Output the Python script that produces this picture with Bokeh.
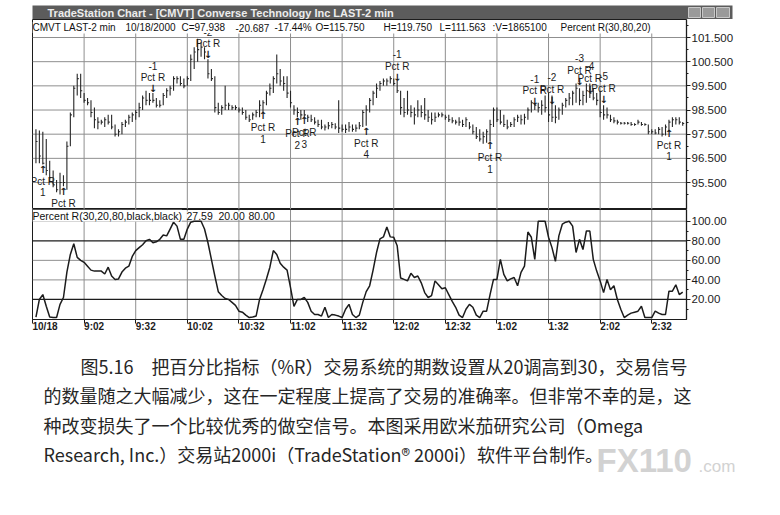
from bokeh.plotting import figure
from bokeh.models import Range1d, FixedTicker, Span, Label, NumeralTickFormatter, ColumnDataSource
from bokeh.layouts import column
from bokeh.embed import file_html
from bokeh.resources import INLINE
from bokeh.core.properties import value

# ---------------- data ----------------
high = [97.7, 97.65, 97.6, 97.3, 96.4, 96.0, 95.6, 95.9, 95.8, 97.2,
        98.4, 99.5, 100.0, 100.0, 99.2, 99.0, 98.9, 98.6, 98.2, 98.1,
        98.2, 98.3, 98.3, 97.9, 97.7, 98.0, 98.1, 98.3, 98.4, 98.5,
        98.8, 99.1, 99.3, 99.2, 99.2, 99.0, 98.9, 99.2, 99.4, 99.5,
        99.9, 99.9, 99.9, 99.8, 99.9, 100.8, 101.1, 101.45, 101.3, 101.1,
        100.6, 100.2, 99.9, 98.8, 98.7, 99.5, 98.8, 98.7, 98.7, 98.6,
        98.6, 98.5, 98.3, 98.4, 98.5, 98.9, 98.9, 99.3, 99.6, 99.9,
        100.8, 100.2, 99.9, 99.9, 99.3, 98.7, 98.6, 98.5, 98.5, 98.3,
        98.3, 98.2, 98.1, 98.1, 97.9, 98.0, 98.0, 97.95, 98.9, 97.9,
        97.9, 98.0, 97.9, 97.9, 98.0, 98.5, 98.7, 99.0, 99.3, 99.6,
        99.7, 99.8, 99.8, 99.9, 99.8, 99.7, 99.3, 99.0, 99.3, 98.7,
        98.6, 98.9, 98.7, 99.0, 98.5, 98.4, 98.4, 98.4, 98.4, 98.3,
        98.3, 98.2, 98.1, 98.2, 98.1, 98.2, 98.0, 97.9, 97.8, 97.7,
        97.6, 97.7, 98.1, 98.6, 98.6, 98.5, 98.3, 98.1, 98.0, 98.2,
        98.3, 98.3, 98.35, 98.6, 98.9, 98.8, 98.8, 98.9, 99.1, 99.2,
        99.1, 98.7, 98.6, 98.8, 99.0, 99.2, 99.3, 99.6, 99.4, 99.3,
        99.6, 99.6, 99.4, 99.2, 99.3, 98.7, 98.6, 98.3, 98.2, 98.1,
        98.0, 98.0, 98.0, 98.0, 97.95, 98.1, 98.0, 97.95, 97.9, 97.7,
        97.7, 97.8, 97.8, 97.9, 98.1, 98.2, 98.2, 98.2, 98.0]
low = [96.3, 96.3, 96.25, 95.8, 95.5, 95.3, 95.1, 95.0, 95.35, 95.2,
       97.0, 98.2, 99.1, 99.0, 98.8, 98.7, 98.2, 97.75, 97.7, 97.9,
       97.8, 97.9, 97.7, 97.4, 97.4, 97.5, 97.8, 97.9, 98.0, 98.1,
       98.2, 98.5, 98.7, 98.7, 98.8, 98.6, 98.6, 98.7, 99.0, 99.1,
       99.3, 99.6, 99.5, 99.4, 99.5, 99.7, 100.2, 100.5, 100.7, 100.6,
       99.8, 99.7, 98.4, 98.3, 98.3, 98.5, 98.5, 98.5, 98.5, 98.4,
       98.3, 98.1, 98.0, 98.1, 98.2, 98.2, 98.4, 98.7, 99.1, 99.2,
       99.6, 99.5, 99.3, 99.0, 98.6, 98.3, 98.2, 98.1, 98.15, 98.0,
       98.0, 97.9, 97.8, 97.7, 97.65, 97.7, 97.75, 97.7, 97.55, 97.6,
       97.55, 97.6, 97.6, 97.6, 97.7, 97.8, 97.85, 98.4, 98.7, 99.0,
       99.3, 99.5, 99.5, 99.6, 99.5, 99.2, 98.3, 98.2, 98.3, 98.2,
       97.9, 98.2, 98.2, 98.1, 98.0, 97.9, 98.0, 98.2, 98.2, 98.1,
       98.0, 97.95, 97.9, 97.85, 97.8, 97.8, 97.7, 97.5, 97.3, 97.2,
       97.1, 97.15, 97.2, 97.8, 98.0, 97.9, 97.8, 97.7, 97.8, 97.8,
       98.0, 97.9, 97.9, 98.1, 98.4, 98.5, 98.4, 98.3, 98.4, 98.0,
       98.0, 97.95, 98.1, 98.3, 98.6, 98.7, 98.7, 98.8, 98.7, 98.7,
       98.8, 99.0, 98.9, 98.7, 98.2, 98.1, 98.15, 98.0, 97.95, 97.9,
       97.9, 97.9, 97.9, 97.85, 97.85, 97.9, 97.85, 97.85, 97.5, 97.5,
       97.5, 97.5, 97.4, 97.45, 97.6, 97.8, 97.9, 97.9, 97.85]
close = [97.2, 96.6, 96.3, 96.0, 95.7, 95.4, 95.2, 95.5, 95.5, 97.0,
         98.3, 99.4, 99.8, 99.3, 98.9, 98.8, 98.4, 98.1, 98.0, 98.0,
         98.1, 98.0, 97.8, 97.5, 97.6, 97.9, 98.0, 98.2, 98.3, 98.4,
         98.6, 99.0, 98.9, 98.9, 98.9, 98.7, 98.7, 99.1, 99.3, 99.4,
         99.8, 99.8, 99.6, 99.5, 99.8, 100.6, 100.9, 101.0, 101.1, 100.9,
         100.0, 99.8, 98.6, 98.4, 98.6, 98.7, 98.7, 98.6, 98.6, 98.5,
         98.4, 98.2, 98.1, 98.3, 98.4, 98.7, 98.8, 99.2, 99.4, 99.8,
         100.0, 99.7, 99.6, 99.2, 98.8, 98.5, 98.4, 98.3, 98.3, 98.2,
         98.1, 98.0, 97.9, 97.8, 97.8, 97.85, 97.9, 97.8, 97.75, 97.7,
         97.7, 97.8, 97.7, 97.75, 97.85, 98.4, 98.5, 98.9, 99.2, 99.4,
         99.6, 99.7, 99.7, 99.8, 99.6, 99.3, 98.6, 98.4, 98.5, 98.4,
         98.3, 98.5, 98.4, 98.3, 98.2, 98.1, 98.2, 98.3, 98.3, 98.2,
         98.1, 98.05, 98.0, 98.0, 97.9, 98.1, 97.8, 97.6, 97.4, 97.3,
         97.4, 97.6, 97.9, 98.5, 98.1, 98.0, 97.9, 97.8, 97.9, 98.1,
         98.2, 98.1, 98.2, 98.5, 98.8, 98.7, 98.6, 98.7, 98.6, 98.3,
         98.2, 98.2, 98.5, 98.7, 98.9, 99.0, 99.2, 99.4, 98.9, 99.1,
         99.3, 99.2, 99.0, 98.9, 98.4, 98.3, 98.3, 98.1, 98.05, 98.0,
         97.95, 97.95, 97.95, 97.9, 97.9, 98.0, 97.9, 97.9, 97.6, 97.6,
         97.55, 97.7, 97.5, 97.8, 98.0, 98.1, 98.1, 98.0, 97.94]
pct_r = [2, 20, 25, 13, 2, 1.5, 1.5, 15, 22, 48,
         66, 77, 63, 60, 58, 54, 50, 49, 49, 49,
         46, 53, 44, 40.5, 41, 48, 52, 54, 64, 70,
         73, 76, 80, 81.5, 78, 79, 81.5, 86, 85, 92,
         99, 95, 81.5, 81.5, 92, 99, 100, 100, 100, 92,
         78, 61, 44, 28, 24, 21, 20, 17, 14, 8,
         7, 4, 1.5, 2, 3, 20, 30, 41, 53, 70,
         66, 57, 53, 50, 32, 13, 20, 20, 22, 17,
         8, 4.6, 4.6, 3, 12, 1.5, 4.6, 4, 3, 1.5,
         10, 15, 4.6, 1.5, 4, 17, 28, 34, 50, 68,
         82, 84, 94, 84, 83.6, 75, 42, 40.5, 39, 46.7,
         42.5, 44, 37, 27, 22, 24, 39, 35, 31, 32,
         25, 18, 12, 4, 1.5, 10, 15, 12, 4, 1.5,
         8, 8, 25, 40.5, 40.5, 61, 45.6, 39, 41, 42.5,
         34, 47.7, 54, 89, 83.6, 61, 100, 100, 100, 83.6,
         73, 59, 85, 97, 99, 100, 95, 68, 81.5, 71,
         90, 90, 61, 49, 39, 27, 40.5, 30, 34, 20,
         10, 1.5, 4, 6, 7, 8, 13, 1.5, 1.5, 1.5,
         8, 6, 4.6, 4.6, 28.5, 28.5, 35, 25, 27.59]

time_ticks = [0, 15, 30, 45, 60, 75, 90, 105, 120, 135, 150, 165, 180]
time_labels = ["10/18", "9:02", "9:32", "10:02", "10:32", "11:02", "11:32",
               "12:02", "12:32", "1:02", "1:32", "2:02", "2:32"]
price_ticks = [95.5, 96.5, 97.5, 98.5, 99.5, 100.5, 101.5]
price_minor = [95, 96, 97, 98, 99, 100, 101, 102]
pr_ticks = [20, 40, 60, 80, 100]
pr_minor = [10, 30, 50, 70, 90]
pr_levels = [80, 20]

long_bar = [3, 9, 67, 77, 79, 97, 133, 185]
long_at = [96.05, 95.13, 98.27, 98.02, 98.05, 97.62, 97.03, 97.53]
long_num = ["1", "", "1", "2", "3", "4", "1", "1"]
short_bar = [35, 51, 106, 146, 151, 159, 162, 166]
short_at = [99.39, 100.78, 99.85, 98.85, 98.9, 99.68, 99.35, 98.95]
short_num = ["-1", "-2", "-1", "-1", "-2", "-3", "-4", "-5"]

window_title = "TradeStation Chart - [CMVT] Converse Technology Inc LAST-2 min"
info_parts = ["CMVT LAST-2 min", "10/18/2000", "C=97.938", "-20.687", "-17.44%",
              "O=115.750", "H=119.750", "L=111.563", ":V=1865100", "Percent R(30,80,20)"]
pr_parts = ["Percent R(30,20,80,black,black)", "27.59", "20.00", "80.00"]

caption_lines = [
    "图5.16　把百分比指标（%R）交易系统的期数设置从20调高到30，交易信号",
    "的数量随之大幅减少，这在一定程度上提高了交易的准确率。但非常不幸的是，这",
    "种改变损失了一个比较优秀的做空信号。本图采用欧米茄研究公司（Omega",
    "Research, Inc.）交易站2000i（TradeStation® 2000i）软件平台制作。",
]

# ---------------- layout / style constants ----------------
bars = list(range(1, len(close) + 1))
W = 772
LEFT = 32
X0, X1 = 0, 190.1
P0, P1 = 94.384, 102.245
R0, R1 = -0.5, 112.0
FW, PH, RH = 654, 190, 110
FONT = "Liberation Sans"
INK = "#1c1c1c"
GRID = "#8f8f8f"
ppu = PH / (P1 - P0)          # pixels per price unit
rpu = RH / (R1 - R0)          # pixels per %R unit
bpx = FW / (X1 - X0)          # pixels per bar
info_px = [32, 125, 181, 235, 274, 315, 383, 439, 492, 560]   # label starts (page px)
pr_px = [32, 186, 218, 248]
CAP_SHIFT = -34               # compensates the caption canvas offset seen in rendering


def base(fh, **kw):
    return figure(frame_width=FW, frame_height=fh, toolbar_location=None,
                  output_backend="svg", min_border_left=LEFT, min_border_right=W - LEFT - FW,
                  min_border_top=0, min_border_bottom=0,
                  background_fill_color="white", border_fill_color="white",
                  outline_line_color=INK, **kw)


def style_right_axis(ax, ticks, minor, fmt):
    ax.ticker = FixedTicker(ticks=ticks, minor_ticks=minor)
    ax.formatter = NumeralTickFormatter(format=fmt)
    ax.axis_line_color = INK
    ax.axis_line_width = 1.3
    ax.major_tick_in = 0
    ax.major_tick_out = 4
    ax.minor_tick_in = 0
    ax.minor_tick_out = 2
    ax.major_tick_line_color = INK
    ax.minor_tick_line_color = INK
    ax.major_label_standoff = 1
    ax.major_label_text_font = FONT
    ax.major_label_text_font_size = "11.5px"
    ax.major_label_text_color = INK


def guide_lines(fig, xs, ys, y0, y1):
    """thin guide lines at the time ticks and value ticks"""
    lx, ly = [], []
    for t in xs:
        if t > X0:
            lx.append([float(t), float(t)])
            ly.append([float(y0), float(y1)])
    for t in ys:
        lx.append([float(X0), float(X1)])
        ly.append([float(t), float(t)])
    fig.multi_line(xs=lx, ys=ly, line_color=GRID, line_width=1)


def plain(fh, fw, **kw):
    f = figure(frame_width=fw, frame_height=fh, toolbar_location=None, output_backend="svg",
               x_axis_location=None, y_axis_location=None, border_fill_color="white",
               outline_line_color=None, **kw)
    f.grid.visible = False
    return f


# ---------------- window title bar ----------------
tb = plain(14, 700, x_range=Range1d(0, 700), y_range=Range1d(0, 14),
           min_border_left=LEFT, min_border_right=W - LEFT - 700,
           min_border_top=5, min_border_bottom=0, background_fill_color="#5c5c5c")
tb.quad(left=[656, 670, 684], right=[668, 682, 697], bottom=[2, 2, 2], top=[12, 12, 12],
        fill_color="#9a9a9a", line_color="#c8c8c8")
tb.add_layout(Label(x=15, y=7, text=window_title, text_font=FONT, text_font_size="11px",
                    text_color="#ececec", text_baseline="middle", text_font_style="bold"))

# ---------------- price panel ----------------
p = base(PH, x_range=Range1d(X0, X1), y_range=Range1d(P0, P1),
         x_axis_location=None, y_axis_location="right")
p.grid.visible = False
style_right_axis(p.yaxis[0], price_ticks, price_minor, "0.000")
guide_lines(p, time_ticks, price_ticks, P0, P1 - 14 / ppu)

src = ColumnDataSource(dict(bar=bars, high=high, low=low, close=close,
                            tick_end=[b + 0.45 for b in bars]))
p.segment(x0="bar", y0="low", x1="bar", y1="high", source=src, line_color="#262626", line_width=1.1)
p.segment(x0="bar", y0="close", x1="tick_end", y1="close", source=src, line_color="#262626", line_width=1.1)

txt = dict(text_font=value(FONT), text_font_size="10px", text_align="center",
           text_baseline="middle", text_color=INK)
arr = dict(text_font=value("DejaVu Sans"), text_font_size="10px", text_font_style="bold",
           text_align="center", text_baseline="middle", text_color=INK)
nl, ns = len(long_bar), len(short_bar)
p.text(x=long_bar, y=long_at, text=["↑"] * nl, **arr)
p.text(x=long_bar, y=[a - 12 / ppu for a in long_at], text=["Pct R"] * nl, **txt)
p.text(x=long_bar, y=[a - 23 / ppu for a in long_at], text=long_num, **txt)
p.text(x=short_bar, y=short_at, text=["↓"] * ns, **arr)
p.text(x=short_bar, y=[a + 11 / ppu for a in short_at], text=["Pct R"] * ns, **txt)
p.text(x=short_bar, y=[a + 23 / ppu for a in short_at], text=short_num, **txt)

for s, px in zip(info_parts, info_px):
    p.add_layout(Label(x=X0 + (px - LEFT) / bpx, y=P1 - 8 / ppu, text=s, text_font=FONT,
                       text_font_size="10px", text_color="#111111", text_baseline="middle",
                       background_fill_color="white"))

# ---------------- Percent R panel ----------------
q = base(RH, x_range=p.x_range, y_range=Range1d(R0, R1),
         x_axis_location="below", y_axis_location="right")
q.grid.visible = False
style_right_axis(q.yaxis[0], pr_ticks, pr_minor, "0.00")
guide_lines(q, time_ticks, [t for t in pr_ticks if t not in pr_levels], R0, R1)
xa = q.xaxis[0]
xa.ticker = FixedTicker(ticks=time_ticks)
xa.major_label_overrides = {t: s for t, s in zip(time_ticks, time_labels)}
xa.major_label_orientation = -0.0001
xa.major_label_text_font = FONT
xa.major_label_text_font_style = "bold"
xa.major_label_text_font_size = "10px"
xa.major_label_text_color = INK
xa.major_label_standoff = 3
xa.major_tick_in = 0
xa.major_tick_out = 4
xa.major_tick_line_color = INK
xa.axis_line_color = INK
for lv in pr_levels:
    q.add_layout(Span(location=lv, dimension="width", line_color=INK, line_width=1.3))
q.line(bars, pct_r, line_color=INK, line_width=1.5)
for s, px in zip(pr_parts, pr_px):
    q.add_layout(Label(x=X0 + (px - LEFT) / bpx, y=R1 - 6 / rpu, text=s, text_font=FONT,
                       text_font_size="10.5px", text_color="#111111", text_baseline="middle",
                       background_fill_color="white"))

# ---------------- bottom frame bar ----------------
sb = plain(3, 700, x_range=Range1d(0, 1), y_range=Range1d(0, 1),
           min_border_left=LEFT, min_border_right=W - LEFT - 700,
           min_border_top=0, min_border_bottom=0, background_fill_color="#2e2e2e")

# ---------------- caption ----------------
CH = 160
c = plain(CH, W, x_range=Range1d(0, W), y_range=Range1d(CH, 0), min_border=0,
          background_fill_color="white")
cap_x = [82 + CAP_SHIFT] + [45 + CAP_SHIFT] * (len(caption_lines) - 1)
cap_y = [22 + 29.5 * k for k in range(len(caption_lines))]
c.text(x=cap_x, y=cap_y, text=caption_lines, text_font=value("Noto Sans CJK SC"),
       text_font_size="18px", text_baseline="middle", text_color="#262626")
c.text(x=[598 + CAP_SHIFT], y=[117], text=["FX110"], text_font=value(FONT), text_font_style="bold",
       text_font_size="33px", text_baseline="middle", text_color="#d2d2d2")
c.text(x=[700 + CAP_SHIFT], y=[123], text=[".com"], text_font=value(FONT),
       text_font_size="17px", text_baseline="middle", text_color="#d2d2d2")

layout = column(tb, p, q, sb, c, spacing=0)
open("out.html", "w").write(file_html(layout, INLINE))
